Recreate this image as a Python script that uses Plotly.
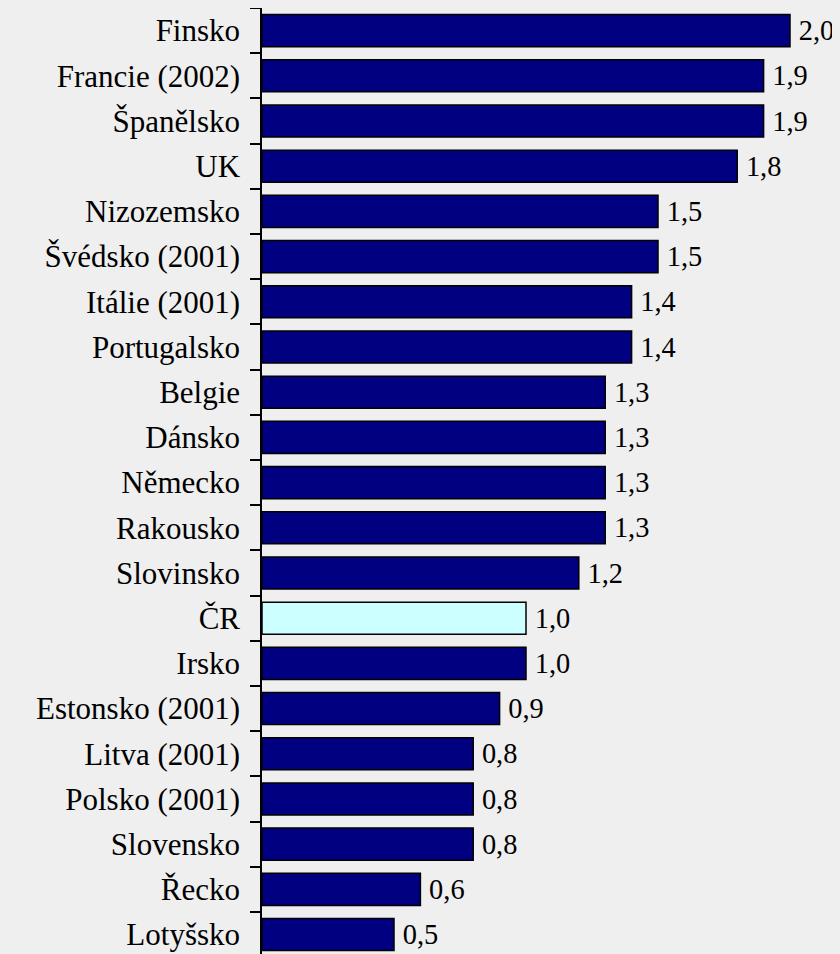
import plotly.graph_objects as go

zeme = ['Finsko', 'Francie (2002)', 'Španělsko', 'UK', 'Nizozemsko', 'Švédsko (2001)',
        'Itálie (2001)', 'Portugalsko', 'Belgie', 'Dánsko', 'Německo', 'Rakousko',
        'Slovinsko', 'ČR', 'Irsko', 'Estonsko (2001)', 'Litva (2001)', 'Polsko (2001)',
        'Slovensko', 'Řecko', 'Lotyšsko']
hodnoty = [2.0, 1.9, 1.9, 1.8, 1.5, 1.5, 1.4, 1.4, 1.3, 1.3, 1.3, 1.3,
           1.2, 1.0, 1.0, 0.9, 0.8, 0.8, 0.8, 0.6, 0.5]
zvyraznit = 'ČR'

barvy = ['#CCFFFF' if z == zvyraznit else '#000080' for z in zeme]

fig = go.Figure()
fig.add_trace(go.Bar(
    x=hodnoty, y=zeme, orientation='h',
    marker=dict(color=barvy, line=dict(color='black', width=1.5)),
    width=0.71,
    text=hodnoty, texttemplate='\u2009%{x:.1f}', textposition='outside',
    textfont=dict(family='Liberation Serif', size=31, color='black'),
    cliponaxis=False,
))

# stranka ma okraj 8 px, graf proto o neco mensi
fig.update_layout(
    width=832, height=946,
    margin=dict(l=254, r=0, t=0, b=0, autoexpand=False),
    paper_bgcolor='#efefef', plot_bgcolor='#efefef',
    separators=',.',
    showlegend=False,
    bargap=0.29,
    font=dict(family='Liberation Serif', size=31, color='black'),
    xaxis=dict(range=[0, 578 / 264], visible=False, showgrid=False, zeroline=False,
               automargin=False),
    yaxis=dict(
        categoryorder='array', categoryarray=zeme,
        range=[20.43, -0.5], automargin=False,
        showline=True, linecolor='black', linewidth=1.5,
        ticks='outside', tickson='boundaries', ticklen=10, tickcolor='black', tickwidth=1.5,
        ticklabelstandoff=14, showgrid=False,
        tickfont=dict(family='Liberation Serif', size=31, color='black'),
    ),
)

fig.write_html('out.html', post_script="document.body.style.backgroundColor='#efefef';")
